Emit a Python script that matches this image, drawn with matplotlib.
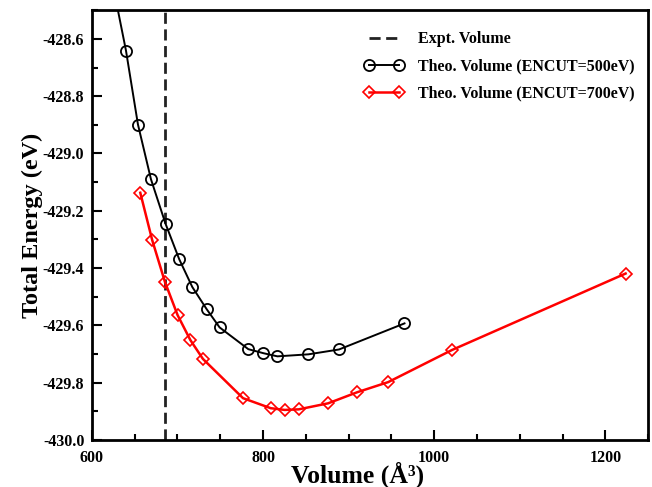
import matplotlib
matplotlib.use("Agg")
import matplotlib.pyplot as plt
from matplotlib.ticker import MultipleLocator, FormatStrFormatter

# Energy-volume data
vol_500 = [625.0, 639.8, 653.8, 669.0, 686.0, 702.0, 717.3, 734.0, 749.2,
           782.8, 800.4, 816.8, 853.0, 888.8, 965.3]
energy_500 = [-428.42, -428.641, -428.899, -429.090, -429.245, -429.369,
              -429.466, -429.543, -429.607, -429.683, -429.697, -429.708,
              -429.701, -429.684, -429.593]

vol_700 = [656.5, 670.5, 685.3, 700.1, 715.0, 729.7, 776.6, 809.0, 825.3,
           841.7, 876.0, 910.3, 946.2, 1020.7, 1223.7]
energy_700 = [-429.137, -429.303, -429.448, -429.564, -429.651, -429.717,
              -429.854, -429.889, -429.895, -429.893, -429.872, -429.833,
              -429.798, -429.686, -429.419]

expt_volume = 685.0

plt.rcParams['font.family'] = ['Liberation Serif', 'DejaVu Serif']
plt.rcParams['font.weight'] = 'bold'

fig = plt.figure(figsize=(6.52, 4.87), dpi=100)
ax = fig.add_axes([0.141, 0.0965, 0.853, 0.8825])

ax.axvline(expt_volume, color='#222222', lw=2.0, ls=(0, (4, 2)),
           label='Expt. Volume')
ax.plot(vol_500, energy_500, color='black', lw=1.4, marker='o', ms=8,
        mfc='none', mec='black', mew=1.3,
        label='Theo. Volume (ENCUT=500eV)')
ax.plot(vol_700, energy_700, color='red', lw=1.8, marker='D', ms=6,
        mfc='none', mec='red', mew=1.2,
        label='Theo. Volume (ENCUT=700eV)')

ax.set_xlim(600, 1250)
ax.set_ylim(-430.0, -428.5)
ax.xaxis.set_major_locator(MultipleLocator(200))
ax.xaxis.set_minor_locator(MultipleLocator(50))
ax.yaxis.set_major_locator(MultipleLocator(0.2))
ax.yaxis.set_minor_locator(MultipleLocator(0.1))
ax.yaxis.set_major_formatter(FormatStrFormatter('%.1f'))

ax.tick_params(which='both', direction='in', top=False, right=False,
               labelsize=11.5, width=1.5)
ax.tick_params(which='major', length=7)
ax.tick_params(which='minor', length=4)
ax.tick_params(axis='x', which='major', pad=7.5)
ax.tick_params(axis='y', which='major', pad=5.5)
for lab in ax.get_xticklabels() + ax.get_yticklabels():
    lab.set_fontweight('bold')
for sp in ax.spines.values():
    sp.set_linewidth(2.0)

ax.set_xlabel('Volume (Å³)', fontsize=18.5, fontweight='bold')
ax.xaxis.set_label_coords(0.478, -0.05)
ax.set_ylabel('Total Energy (eV)', fontsize=17.5, fontweight='bold', labelpad=0)

leg = ax.legend(loc='upper left', bbox_to_anchor=(0.4634, 0.984), frameon=False,
                fontsize=11.5, handlelength=2.5, numpoints=2,
                labelspacing=0.70, handletextpad=0.9)
for t in leg.get_texts():
    t.set_fontweight('bold')

fig.savefig('out.png', dpi=100)
